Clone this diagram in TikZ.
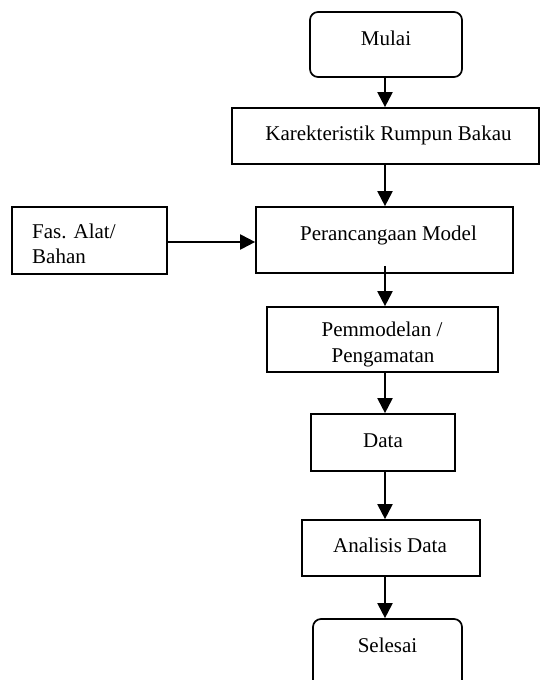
\documentclass[tikz,border=0pt]{standalone}
\usepackage{fontspec}
\setmainfont{Liberation Serif}
\usetikzlibrary{arrows.meta}
\tikzset{
  box/.style={draw, line width=1.7pt, inner sep=0pt},
  rbox/.style={box, rounded corners=8pt},
  arr/.style={-{Triangle[width=15pt,length=15pt]}, line width=2pt},
  txt/.style={font=\fontsize{21}{25}\selectfont, inner sep=0pt, anchor=base}
}
\begin{document}
\begin{tikzpicture}[x=1pt,y=-1pt]
\useasboundingbox (0,0) rectangle (540,680);
\clip (0,0) rectangle (540,680);
\coordinate (ax) at (385,0);
% boxes
\node[rbox, minimum width=152pt, minimum height=65pt] (mulai) at (386,44.5) {};
\node[box, minimum width=307pt, minimum height=56pt] (karek) at (385.5,136) {};
\node[box, minimum width=155pt, minimum height=67pt] (fas) at (89.5,240.5) {};
\node[box, minimum width=257pt, minimum height=66pt] (per) at (384.5,240) {};
\node[box, minimum width=231pt, minimum height=65pt] (pemm) at (382.5,339.5) {};
\node[box, minimum width=144pt, minimum height=57pt] (data) at (383,442.5) {};
\node[box, minimum width=178pt, minimum height=56pt] (anal) at (391,548) {};
\node[rbox, minimum width=149pt, minimum height=80pt] (sel) at (387.5,659) {};
% texts
\node[txt] (tmulai) at (386,45) {Mulai};
\node[txt] (tkarek) at (388.5,140) {Karekteristik Rumpun Bakau};
\node[txt] (tper) at (388.5,240) {Perancangaan Model};
\node[txt, anchor=base west] (tfas1) at (32,238) {Fas. Alat/};
\node[txt, anchor=base west] (tfas2) at (32,263) {Bahan};
\node[txt] (tpemm1) at (382,336) {Pemmodelan /};
\node[txt] (tpemm2) at (383,362) {Pengamatan};
\node[txt] (tdata) at (383,447) {Data};
\node[txt] (tanal) at (390,552) {Analisis Data};
\node[txt] (tsel) at (387.5,652) {Selesai};
% connectors
\draw[arr] (mulai.south -| ax) -- (karek.north -| ax);
\draw[arr] (karek.south -| ax) -- (per.north -| ax);
\draw[arr] (fas.east |- 0,242) -- (per.west |- 0,242);
\draw[arr] ([yshift=8pt]per.south -| ax) -- (pemm.north -| ax);
\draw[arr] (pemm.south -| ax) -- (data.north -| ax);
\draw[arr] (data.south -| ax) -- (anal.north -| ax);
\draw[arr] (anal.south -| ax) -- (sel.north -| ax);
\end{tikzpicture}
\end{document}
